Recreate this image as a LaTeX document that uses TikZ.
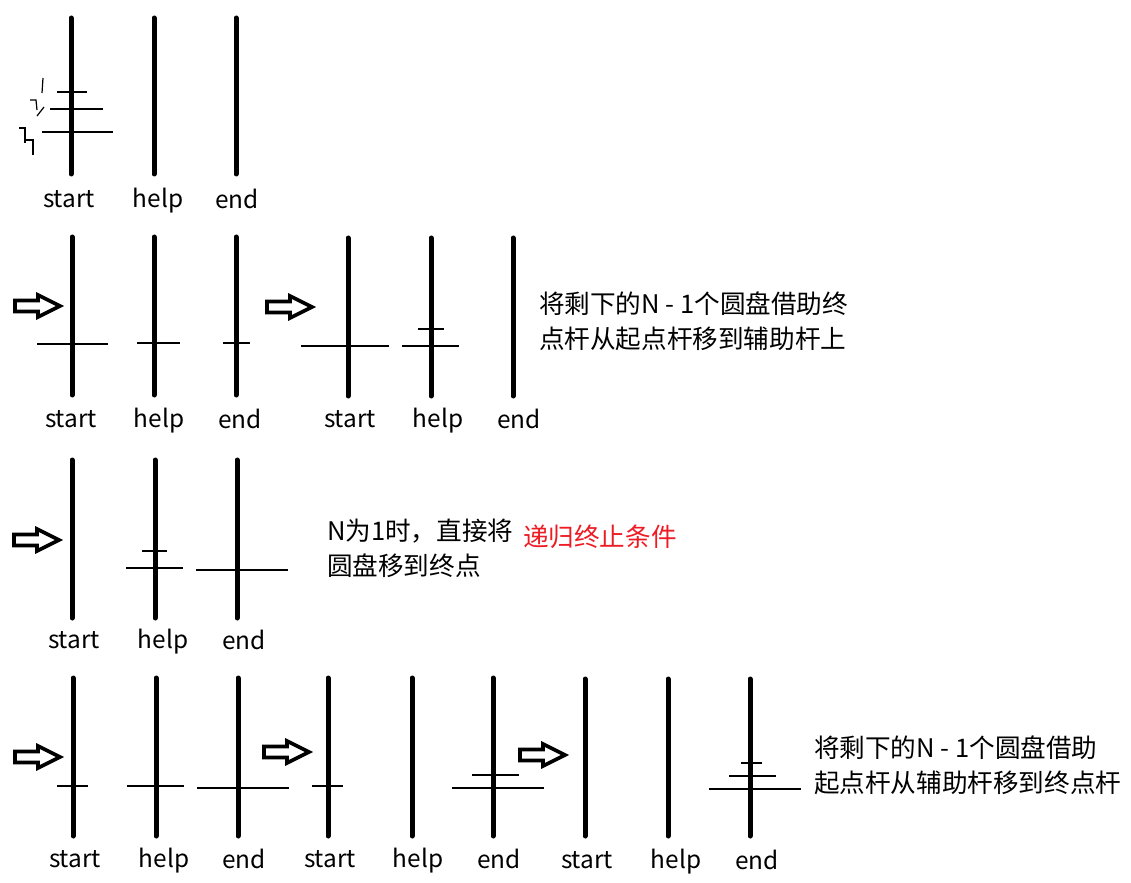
\documentclass[tikz,border=0pt]{standalone}
\usepackage{fontspec}
\setmainfont{Noto Sans CJK SC}
\usepackage{tikz}
\usetikzlibrary{positioning}
\definecolor{notered}{RGB}{237,28,36}

\begin{document}
\begin{tikzpicture}[x=0.5pt, y=-0.5pt,
    peg/.style={line width=2.5pt, line cap=round},
    disk/.style={line width=0.6pt},
    hollow/.style={line width=1.8pt, miter limit=6},
    scrib/.style={line width=0.6pt},
    lbl/.style={font=\fontsize{12.2}{14}\selectfont, anchor=base},
    note/.style={font=\fontsize{12.8}{17.5}\selectfont, align=left, anchor=west}]
  \useasboundingbox (0,0) rectangle (1131,883);
  % pegs
  \foreach \x/\ya/\yb in {71/18/174, 154/18/174, 236/18/174,
      72/237/395, 154/237/395, 236/237/395, 348/238/396, 431/238/396, 513/238/396,
      72/460/618, 155/460/618, 237/460/618,
      73/678/836, 156/678/836, 238/678/836, 328/678/836, 412/678/836, 493/678/836,
      585/679/836, 668/679/836, 750/679/836}
    \draw[peg] (\x,\ya) -- (\x,\yb);
  % peg labels (y is the baseline)
  \foreach \i/\x/\y/\t in {a/69/207/start, b/158/207/help, c/237/208/end,
      d/71/427/start, e/159/427/help, f/240/428/end,
      g/350/427/start, h/438/427/help, i/519/428/end,
      j/74/648/start, k/163/648/help, l/244/649/end,
      m/75/867/start, n/164/867/help, o/244/868/end,
      p/330/867/start, q/418/867/help, r/499/868/end,
      s/587/868/start, t/676/868/help, u/757/869/end}
    \node[lbl] (lbl-\i) at (\x,\y) {\t};
  % disks
  \foreach \xa/\xb/\y in {57/87/92, 50/103/109, 42/113/132,
      37/108/344, 137/180/343, 223/250/343, 301/389/346, 402/459/346, 418/444/329,
      142/167/551, 126/183/568, 196/288/570,
      57/88/786, 127/184/786, 197/289/788, 312/343/786, 472/519/775, 452/544/788,
      741/762/763, 729/776/776, 709/801/789}
    \draw[disk] (\xa,\y) -- (\xb,\y);
  % hand-written disk numbers
  \draw[scrib] (43,78) -- (42,93);
  \draw[scrib] (30,100) -- (36,100) -- (37,110);
  \draw[scrib] (37,116) -- (44,107);
  \draw[scrib] (19,128) -- (25,128) -- (25,143);
  \draw[line width=1.2pt] (25,136) -- (25,143);
  \draw[scrib] (25,140) -- (33,140) -- (33,155);
  % move arrows
  \foreach \x/\y in {63/306, 315/307, 62/540, 63/757, 312/752, 568/755}
    \draw[hollow] ({\x-48},{\y-5.5}) -- ({\x-25},{\y-5.5}) -- ({\x-25},{\y-11})
      -- ({\x-3},\y) -- ({\x-25},{\y+11}) -- ({\x-25},{\y+5.5}) -- ({\x-48},{\y+5.5}) -- cycle;
  % notes
  \node[note] (step1) at (532,321) {将剩下的N - 1个圆盘借助终\\点杆从起点杆移到辅助杆上};
  \node[note] (step2) at (320,548) {N为1时，直接将\\圆盘移到终点};
  \node[note, text=notered] (stop) at (516,537) {递归终止条件};
  \node[note] (step3) at (807,765) {将剩下的N - 1个圆盘借助\\起点杆从辅助杆移到终点杆};
\end{tikzpicture}
\end{document}
